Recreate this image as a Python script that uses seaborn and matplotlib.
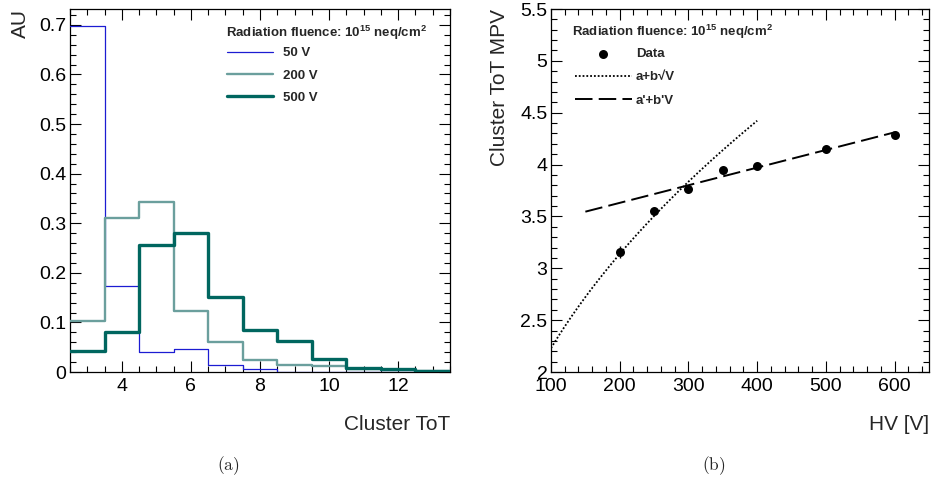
import numpy as np
import pandas as pd
import matplotlib
matplotlib.use("Agg")
import matplotlib.pyplot as plt
from matplotlib.ticker import MultipleLocator
from matplotlib.lines import Line2D
import seaborn as sns

# ---- cluster ToT distributions (normalised), one bin per integer ToT value ----
tot_bins = [3, 4, 5, 6, 7, 8, 9, 10, 11, 12, 13]
au_50v = [0.698, 0.173, 0.040, 0.047, 0.015, 0.007, 0.001, 0.001, 0.001, 0.001, 0.0005]
au_200v = [0.103, 0.310, 0.342, 0.124, 0.060, 0.025, 0.015, 0.013, 0.006, 0.005, 0.002]
au_500v = [0.043, 0.081, 0.256, 0.281, 0.152, 0.085, 0.062, 0.026, 0.008, 0.006, 0.002]
hist_labels = ["50 V", "200 V", "500 V"]

# ---- cluster ToT MPV versus bias voltage ----
hv = [200, 250, 300, 350, 400, 500, 600]
mpv = [3.157, 3.556, 3.765, 3.945, 3.990, 4.150, 4.289]
mpv_err = [0.06, 0.03, 0.03, 0.03, 0.03, 0.03, 0.03]

# fit parameters: a + b*sqrt(V) and a' + b'*V
fit_sqrt_a, fit_sqrt_b = 0.037, 0.2193
fit_sqrt_range = (100, 400)
fit_lin_a, fit_lin_b = 3.291, 0.0017
fit_lin_range = (150, 600)

TICK_FS = 14
LABEL_FS = 15
LEG_FS = 9.5

sns.set_theme(style="ticks")
plt.rcParams.update({
    "font.family": ["Liberation Sans", "DejaVu Sans"],
    "mathtext.fontset": "custom",
    "mathtext.rm": "Liberation Sans:bold",
    "mathtext.it": "Liberation Sans:bold",
    "mathtext.bf": "Liberation Sans:bold",
    "mathtext.default": "rm",
    "xtick.direction": "in", "ytick.direction": "in",
    "xtick.top": True, "xtick.bottom": True,
    "ytick.left": True, "ytick.right": True,
    "xtick.major.size": 7.8, "ytick.major.size": 7.8,
    "xtick.minor.size": 4.0, "ytick.minor.size": 4.0,
    "xtick.major.width": 0.8, "ytick.major.width": 0.8,
    "xtick.minor.width": 0.8, "ytick.minor.width": 0.8,
    "xtick.color": "black", "ytick.color": "black",
    "xtick.labelsize": TICK_FS, "ytick.labelsize": TICK_FS,
    "xtick.major.pad": 4, "ytick.major.pad": 2.5,
})

fig = plt.figure(figsize=(9.32, 4.87), dpi=100)
ax1 = fig.add_axes([0.0751, 0.2361, 0.4077, 0.7454])
ax2 = fig.add_axes([0.5912, 0.2361, 0.4056, 0.7454])

title_txt = r"Radiation fluence: 10$^{15}$ neq/cm$^{2}$"

# ---- panel (a): histograms ----
hist_series = [au_50v, au_200v, au_500v]
hist_colors = ["#1c1cd2", "#6b9f9d", "#00665f"]
hist_widths = [0.9, 1.7, 2.4]
for vals, col, lw, z in zip(hist_series, hist_colors, hist_widths, [3, 4, 5]):
    df = pd.DataFrame({"tot": tot_bins, "au": vals})
    sns.histplot(data=df, x="tot", weights="au", binwidth=1, binrange=(2.5, 13.5),
                 element="step", fill=False, color=col, linewidth=lw, ax=ax1, zorder=z)

ax1.set_xlim(2.5, 13.5)
ax1.set_ylim(0, 0.732)
ax1.xaxis.set_major_locator(MultipleLocator(2))
ax1.xaxis.set_minor_locator(MultipleLocator(0.5))
ax1.yaxis.set_major_locator(MultipleLocator(0.1))
ax1.yaxis.set_minor_locator(MultipleLocator(0.02))
ax1.yaxis.set_major_formatter(lambda v, pos: "0" if abs(v) < 1e-9 else f"{v:.1f}")
ax1.set_xlabel("Cluster ToT", fontsize=LABEL_FS, loc="right", labelpad=15)
ax1.set_ylabel("AU", fontsize=LABEL_FS, loc="top", labelpad=7)

ax1.text(0.4105, 0.923, title_txt, transform=ax1.transAxes, fontsize=LEG_FS,
         fontweight="bold", ha="left", va="baseline")
hist_handles = [Line2D([], [], color=c, lw=w) for c, w in zip(hist_colors, hist_widths)]
ax1.legend(hist_handles, hist_labels, loc="upper left", bbox_to_anchor=(0.414, 0.895),
           frameon=False, prop={"weight": "bold", "size": LEG_FS},
           handlelength=3.5, handletextpad=0.75, labelspacing=0.76,
           borderpad=0.0, borderaxespad=0.0)

# ---- panel (b): MPV versus HV ----
v_sqrt = np.linspace(fit_sqrt_range[0], fit_sqrt_range[1], 200)
v_lin = np.array(fit_lin_range, dtype=float)
df_pts = pd.DataFrame({"hv": hv, "mpv": mpv})
df_sqrt = pd.DataFrame({"hv": v_sqrt, "mpv": fit_sqrt_a + fit_sqrt_b * np.sqrt(v_sqrt)})
df_lin = pd.DataFrame({"hv": v_lin, "mpv": fit_lin_a + fit_lin_b * v_lin})

sns.lineplot(data=df_sqrt, x="hv", y="mpv", ax=ax2, color="black", lw=1.3,
             linestyle=(0, (1.0, 1.1)), label="a+b\u221aV", zorder=3)
sns.lineplot(data=df_lin, x="hv", y="mpv", ax=ax2, color="black", lw=1.4,
             linestyle=(0, (9.0, 3.2)), label="a'+b'V", zorder=3)
ax2.errorbar(hv, mpv, yerr=mpv_err, fmt="none", ecolor="black", elinewidth=1.0, zorder=4)
sns.scatterplot(data=df_pts, x="hv", y="mpv", ax=ax2, color="black", s=42,
                edgecolor="black", linewidth=0, label="Data", zorder=5)

ax2.set_xlim(100, 650)
ax2.set_ylim(2, 5.5)
ax2.xaxis.set_major_locator(MultipleLocator(100))
ax2.xaxis.set_minor_locator(MultipleLocator(20))
ax2.yaxis.set_major_locator(MultipleLocator(0.5))
ax2.yaxis.set_minor_locator(MultipleLocator(0.1))
ax2.yaxis.set_major_formatter(lambda v, pos: f"{v:g}")
ax2.set_xlabel("HV [V]", fontsize=LABEL_FS, loc="right", labelpad=15)
ax2.set_ylabel("Cluster ToT MPV", fontsize=LABEL_FS, loc="top", labelpad=8)

ax2.text(0.0556, 0.9256, title_txt, transform=ax2.transAxes, fontsize=LEG_FS,
         fontweight="bold", ha="left", va="baseline")
h, l = ax2.get_legend_handles_labels()
order = [l.index("Data"), l.index("a+b\u221aV"), l.index("a'+b'V")]
ax2.legend([h[i] for i in order], [l[i] for i in order], loc="upper left",
           bbox_to_anchor=(0.0635, 0.8926), frameon=False,
           prop={"weight": "bold", "size": LEG_FS},
           handlelength=4.3, handletextpad=0.3, labelspacing=0.83,
           borderpad=0.0, borderaxespad=0.0)

for ax in (ax1, ax2):
    for sp in ax.spines.values():
        sp.set_visible(True)
        sp.set_color("black")
        sp.set_linewidth(0.9)

# sub-figure captions
fig.text(228 / 932, 1 - 466 / 487, r"$\mathrm{(a)}$", math_fontfamily="cm",
         fontsize=12.5, ha="center", va="center")
fig.text(714 / 932, 1 - 466 / 487, r"$\mathrm{(b)}$", math_fontfamily="cm",
         fontsize=12.5, ha="center", va="center")

fig.savefig("out.png", dpi=100)
